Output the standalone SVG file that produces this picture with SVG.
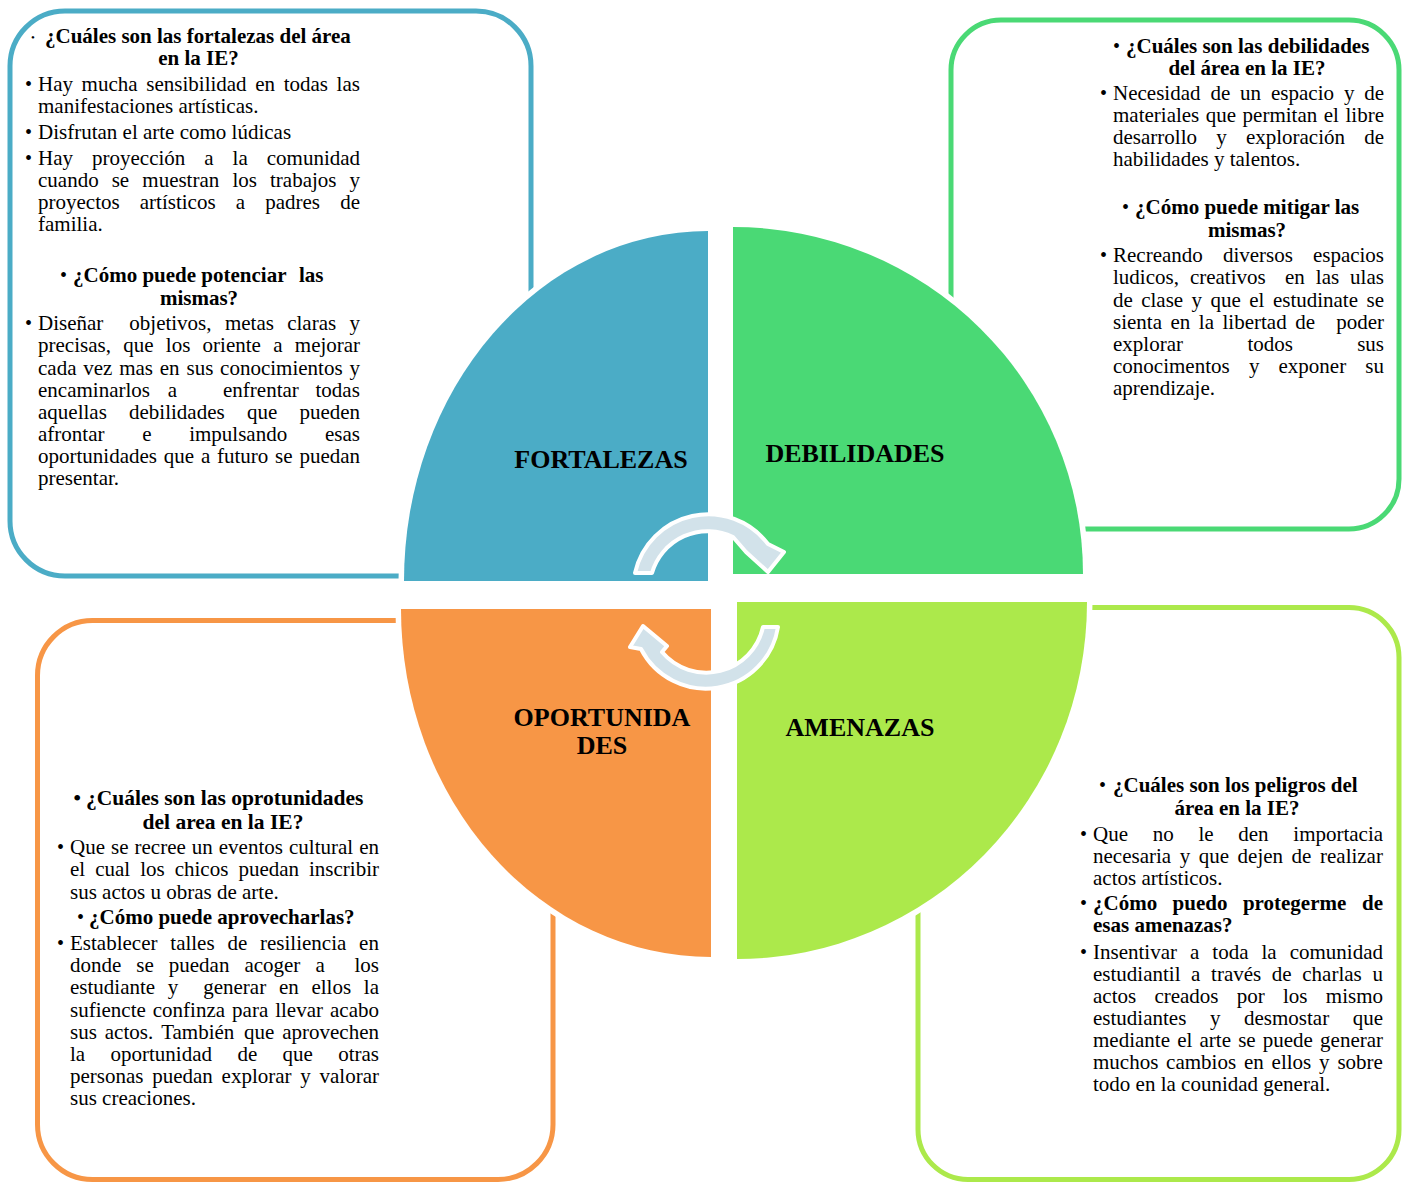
<svg xmlns="http://www.w3.org/2000/svg" width="1408" height="1182" viewBox="0 0 1408 1182">
<style>
.t{font-family:"Liberation Serif","Times New Roman",serif;font-size:21px;fill:#000}
.h{font-weight:bold}
.m{text-anchor:middle}
.bl{font-family:"Liberation Serif","Times New Roman",serif;font-size:20px;fill:#000}
.q{font-family:"Liberation Serif","Times New Roman",serif;font-size:26px;font-weight:bold;fill:#000;text-anchor:middle}
.box{fill:#fff;stroke-width:5}
.halo{fill:#fff;stroke:#fff;stroke-width:11;stroke-linejoin:round}
.arr{fill:#D2E2EA;stroke:#fff;stroke-width:4;stroke-linejoin:round}
</style>
<rect width="1408" height="1182" fill="#fff"/>
<g id="box-fortalezas"><rect class="box" x="10" y="11" width="521" height="565" rx="55" stroke="#4BACC6"/></g>
<g id="box-debilidades"><rect class="box" x="951" y="20" width="448" height="509" rx="50" stroke="#4AD975"/></g>
<g id="box-oportunidades"><rect class="box" x="37.5" y="620.5" width="515.5" height="559" rx="55" stroke="#F79646"/></g>
<g id="box-amenazas"><rect class="box" x="918" y="607.5" width="481" height="572" rx="50" stroke="#ACE94B"/></g>
<g id="halos">
<path class="halo" d="M708 581 L404 581 A304 350 0 0 1 708 231 Z"/>
<path class="halo" d="M733 574 L733 227 A350 347 0 0 1 1083 574 Z"/>
<path class="halo" d="M711 609 L711 957 A310 348 0 0 1 401 609 Z"/>
<path class="halo" d="M737 602 L1087 602 A350 357 0 0 1 737 959 Z"/>
</g>
<g id="q-fortalezas"><path d="M708 581 L404 581 A304 350 0 0 1 708 231 Z" fill="#4BACC6"/><text class="q" x="601" y="468">FORTALEZAS</text></g>
<g id="q-debilidades"><path d="M733 574 L733 227 A350 347 0 0 1 1083 574 Z" fill="#4AD975"/><text class="q" x="855" y="462">DEBILIDADES</text></g>
<g id="q-oportunidades"><path d="M711 609 L711 957 A310 348 0 0 1 401 609 Z" fill="#F79646"/><text class="q" x="602" y="726">OPORTUNIDA</text><text class="q" x="602" y="754">DES</text></g>
<g id="q-amenazas"><path d="M737 602 L1087 602 A350 357 0 0 1 737 959 Z" fill="#ACE94B"/><text class="q" x="860" y="736">AMENAZAS</text></g>
<g id="connectors">
<path class="arr" d="M635 573 A75 75 0 0 1 768 544 L784 552 L768 572 L746 552 L733 537 A58 58 0 0 0 652 573 Z"/>
<path class="arr" d="M778 627 A73 73 0 0 1 641 649 L630 647 L643 626 L667 646 L662 652 A58 58 0 0 0 763 627 Z"/>
</g>
<g id="text-fortalezas">
<text class="bl" x="31" y="41" style="font-size:11px">•</text>
<text class="t h" x="45" y="43">¿Cuáles son las fortalezas del área</text>
<text class="t h m" x="198.5" y="65">en la IE?</text>
<text class="bl" x="25" y="91">•</text>
<text class="t" y="91"><tspan x="38">Hay</tspan><tspan x="81.6">mucha</tspan><tspan x="146.3">sensibilidad</tspan><tspan x="255.2">en</tspan><tspan x="283.7">todas</tspan><tspan x="336.6">las</tspan></text>
<text class="t" x="38" y="113">manifestaciones artísticas.</text>
<text class="bl" x="25" y="139">•</text>
<text class="t" x="38" y="139">Disfrutan el arte como lúdicas</text>
<text class="bl" x="25" y="165">•</text>
<text class="t" y="165"><tspan x="38">Hay</tspan><tspan x="92">proyección</tspan><tspan x="204.3">a</tspan><tspan x="232.6">la</tspan><tspan x="266.8">comunidad</tspan></text>
<text class="t" y="187"><tspan x="38">cuando</tspan><tspan x="111.7">se</tspan><tspan x="142.3">muestran</tspan><tspan x="232.4">los</tspan><tspan x="270">trabajos</tspan><tspan x="349.6">y</tspan></text>
<text class="t" y="209"><tspan x="38">proyectos</tspan><tspan x="139.8">artísticos</tspan><tspan x="235.7">a</tspan><tspan x="265.2">padres</tspan><tspan x="340.2">de</tspan></text>
<text class="t" x="38" y="231">familia.</text>
<text class="bl" x="60" y="282">•</text>
<text class="t h" y="282"><tspan x="73">¿Cómo puede potenciar</tspan><tspan x="299">las</tspan></text>
<text class="t h m" x="199" y="305">mismas?</text>
<text class="bl" x="25" y="330">•</text>
<text class="t" y="330"><tspan x="38">Diseñar</tspan><tspan x="129.3">objetivos,</tspan><tspan x="224.9">metas</tspan><tspan x="287.2">claras</tspan><tspan x="349.5">y</tspan></text>
<text class="t" y="352"><tspan x="38">precisas,</tspan><tspan x="123.2">que</tspan><tspan x="165.8">los</tspan><tspan x="202.6">oriente</tspan><tspan x="273.2">a</tspan><tspan x="294.8">mejorar</tspan></text>
<text class="t" y="375"><tspan x="38">cada</tspan><tspan x="83.3">vez</tspan><tspan x="119.2">mas</tspan><tspan x="159.8">en</tspan><tspan x="186.5">sus</tspan><tspan x="220.1">conocimientos</tspan><tspan x="349.4">y</tspan></text>
<text class="t" y="397"><tspan x="38">encaminarlos</tspan><tspan x="167.7">a</tspan><tspan x="223">enfrentar</tspan><tspan x="315.5">todas</tspan></text>
<text class="t" y="419"><tspan x="38">aquellas</tspan><tspan x="129">debilidades</tspan><tspan x="246.9">que</tspan><tspan x="299.4">pueden</tspan></text>
<text class="t" y="441"><tspan x="38">afrontar</tspan><tspan x="142.2">e</tspan><tspan x="189.2">impulsando</tspan><tspan x="324.9">esas</tspan></text>
<text class="t" y="463"><tspan x="38">oportunidades</tspan><tspan x="163.8">que</tspan><tspan x="200.9">a</tspan><tspan x="217">futuro</tspan><tspan x="275.1">se</tspan><tspan x="299.4">puedan</tspan></text>
<text class="t" x="38" y="485">presentar.</text>
</g>
<g id="text-debilidades">
<text class="bl" x="1113" y="53">•</text>
<text class="t h" x="1126" y="53">¿Cuáles son las debilidades</text>
<text class="t h m" x="1247" y="75">del área en la IE?</text>
<text class="bl" x="1100" y="100">•</text>
<text class="t" y="100"><tspan x="1113">Necesidad</tspan><tspan x="1210.4">de</tspan><tspan x="1240.1">un</tspan><tspan x="1271">espacio</tspan><tspan x="1343.9">y</tspan><tspan x="1364.3">de</tspan></text>
<text class="t" y="122"><tspan x="1113">materiales</tspan><tspan x="1205.8">que</tspan><tspan x="1242.6">permitan</tspan><tspan x="1323.8">el</tspan><tspan x="1345.5">libre</tspan></text>
<text class="t" y="144"><tspan x="1113">desarrollo</tspan><tspan x="1216.2">y</tspan><tspan x="1245.9">exploración</tspan><tspan x="1364.2">de</tspan></text>
<text class="t" x="1113" y="166">habilidades y talentos.</text>
<text class="bl" x="1122" y="214">•</text>
<text class="t h" x="1135" y="214">¿Cómo puede mitigar las</text>
<text class="t h m" x="1247" y="237">mismas?</text>
<text class="bl" x="1100" y="262">•</text>
<text class="t" y="262"><tspan x="1113">Recreando</tspan><tspan x="1222.9">diversos</tspan><tspan x="1312.9">espacios</tspan></text>
<text class="t" y="284"><tspan x="1113">ludicos,</tspan><tspan x="1189.9">creativos</tspan><tspan x="1285">en</tspan><tspan x="1315.8">las</tspan><tspan x="1350.1">ulas</tspan></text>
<text class="t" y="307"><tspan x="1113">de</tspan><tspan x="1141.2">clase</tspan><tspan x="1191.6">y</tspan><tspan x="1210.6">que</tspan><tspan x="1249.3">el</tspan><tspan x="1272.9">estudinate</tspan><tspan x="1366.5">se</tspan></text>
<text class="t" y="329"><tspan x="1113">sienta</tspan><tspan x="1170.5">en</tspan><tspan x="1198.8">la</tspan><tspan x="1222.5">libertad</tspan><tspan x="1295.2">de</tspan><tspan x="1336.2">poder</tspan></text>
<text class="t" y="351"><tspan x="1113">explorar</tspan><tspan x="1247.4">todos</tspan><tspan x="1357.2">sus</tspan></text>
<text class="t" y="373"><tspan x="1113">conocimentos</tspan><tspan x="1248.9">y</tspan><tspan x="1278.5">exponer</tspan><tspan x="1365.3">su</tspan></text>
<text class="t" x="1113" y="395">aprendizaje.</text>
</g>
<g id="text-oportunidades">
<text class="bl" x="73" y="806" style="font-size:24px">•</text>
<text class="t h" x="86" y="805" style="font-size:21.5px">¿Cuáles son las oprotunidades</text>
<text class="t h m" x="223" y="829" style="font-size:21.5px">del area en la IE?</text>
<text class="bl" x="57" y="854">•</text>
<text class="t" y="854"><tspan x="70">Que</tspan><tspan x="111">se</tspan><tspan x="134.5">recree</tspan><tspan x="191.8">un</tspan><tspan x="218.8">eventos</tspan><tspan x="289">cultural</tspan><tspan x="359.2">en</tspan></text>
<text class="t" y="876"><tspan x="70">el</tspan><tspan x="95.2">cual</tspan><tspan x="140.2">los</tspan><tspan x="174.7">chicos</tspan><tspan x="238.4">puedan</tspan><tspan x="309">inscribir</tspan></text>
<text class="t" x="70" y="899">sus actos u obras de arte.</text>
<text class="bl" x="77" y="924">•</text>
<text class="t h" x="89" y="924">¿Cómo puede aprovecharlas?</text>
<text class="bl" x="57" y="950">•</text>
<text class="t" y="950"><tspan x="70">Establecer</tspan><tspan x="170.3">talles</tspan><tspan x="227.4">de</tspan><tspan x="260">resiliencia</tspan><tspan x="359.1">en</tspan></text>
<text class="t" y="972"><tspan x="70">donde</tspan><tspan x="136.3">se</tspan><tspan x="168.8">puedan</tspan><tspan x="244.4">acoger</tspan><tspan x="315.4">a</tspan><tspan x="354.5">los</tspan></text>
<text class="t" y="994"><tspan x="70">estudiante</tspan><tspan x="167.7">y</tspan><tspan x="203.2">generar</tspan><tspan x="278.9">en</tspan><tspan x="311.4">ellos</tspan><tspan x="363.8">la</tspan></text>
<text class="t" y="1017"><tspan x="70">sufiencte</tspan><tspan x="152.8">confinza</tspan><tspan x="232.1">para</tspan><tspan x="275.2">llevar</tspan><tspan x="330">acabo</tspan></text>
<text class="t" y="1039"><tspan x="70">sus</tspan><tspan x="104.8">actos.</tspan><tspan x="161.2">También</tspan><tspan x="243.9">que</tspan><tspan x="282.2">aprovechen</tspan></text>
<text class="t" y="1061"><tspan x="70">la</tspan><tspan x="110.5">oportunidad</tspan><tspan x="237.4">de</tspan><tspan x="282.5">que</tspan><tspan x="338.2">otras</tspan></text>
<text class="t" y="1083"><tspan x="70">personas</tspan><tspan x="152.2">puedan</tspan><tspan x="221.6">explorar</tspan><tspan x="300.3">y</tspan><tspan x="319.5">valorar</tspan></text>
<text class="t" x="70" y="1105">sus creaciones.</text>
</g>
<g id="text-amenazas">
<text class="bl" x="1099" y="792">•</text>
<text class="t h" x="1113" y="792">¿Cuáles son los peligros del</text>
<text class="t h m" x="1237" y="815">área en la IE?</text>
<text class="bl" x="1080" y="841">•</text>
<text class="t" y="841"><tspan x="1093">Que</tspan><tspan x="1152.7">no</tspan><tspan x="1198.4">le</tspan><tspan x="1238.3">den</tspan><tspan x="1293.3">importacia</tspan></text>
<text class="t" y="863"><tspan x="1093">necesaria</tspan><tspan x="1179.7">y</tspan><tspan x="1198.7">que</tspan><tspan x="1237.6">dejen</tspan><tspan x="1291.6">de</tspan><tspan x="1320">realizar</tspan></text>
<text class="t" x="1093" y="885">actos artísticos.</text>
<text class="bl" x="1080" y="910">•</text>
<text class="t h" y="910"><tspan x="1093">¿Cómo</tspan><tspan x="1172.6">puedo</tspan><tspan x="1242.9">protegerme</tspan><tspan x="1362.1">de</tspan></text>
<text class="t h" x="1093" y="932">esas amenazas?</text>
<text class="bl" x="1080" y="959">•</text>
<text class="t" y="959"><tspan x="1093">Insentivar</tspan><tspan x="1190">a</tspan><tspan x="1212.3">toda</tspan><tspan x="1261.5">la</tspan><tspan x="1289.7">comunidad</tspan></text>
<text class="t" y="981"><tspan x="1093">estudiantil</tspan><tspan x="1191.1">a</tspan><tspan x="1211.1">través</tspan><tspan x="1271.8">de</tspan><tspan x="1302.3">charlas</tspan><tspan x="1372.4">u</tspan></text>
<text class="t" y="1003"><tspan x="1093">actos</tspan><tspan x="1154.4">creados</tspan><tspan x="1236.8">por</tspan><tspan x="1283">los</tspan><tspan x="1325.8">mismo</tspan></text>
<text class="t" y="1025"><tspan x="1093">estudiantes</tspan><tspan x="1209.9">y</tspan><tspan x="1244">desmostar</tspan><tspan x="1352.7">que</tspan></text>
<text class="t" y="1047"><tspan x="1093">mediante</tspan><tspan x="1177.2">el</tspan><tspan x="1199.5">arte</tspan><tspan x="1238.2">se</tspan><tspan x="1262.8">puede</tspan><tspan x="1320.1">generar</tspan></text>
<text class="t" y="1069"><tspan x="1093">muchos</tspan><tspan x="1166.1">cambios</tspan><tspan x="1244">en</tspan><tspan x="1271.6">ellos</tspan><tspan x="1319.1">y</tspan><tspan x="1337.4">sobre</tspan></text>
<text class="t" x="1093" y="1091">todo en la counidad general.</text>
</g>
</svg>
